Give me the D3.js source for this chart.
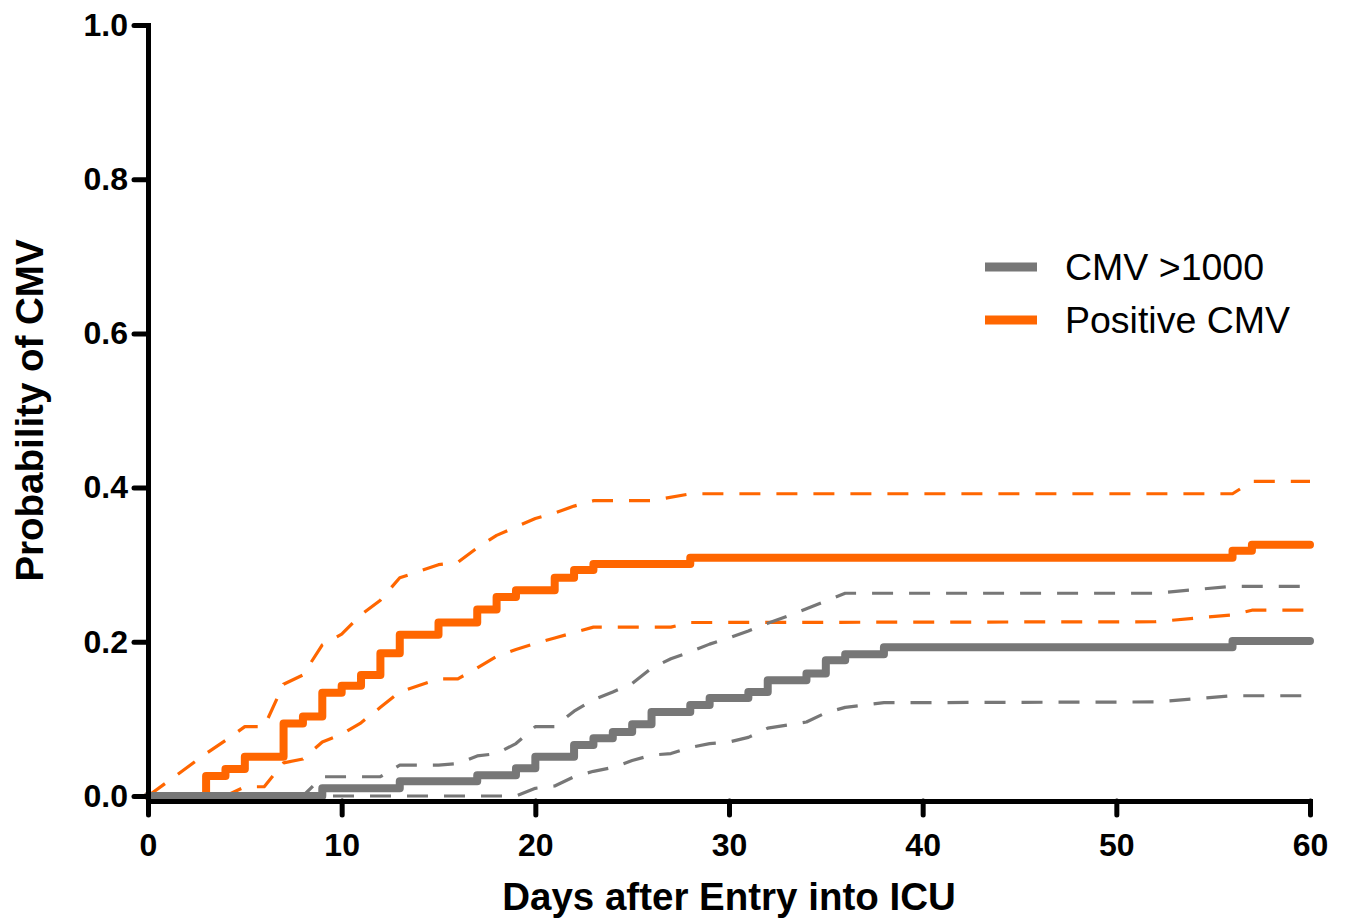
<!DOCTYPE html>
<html>
<head>
<meta charset="utf-8">
<script src="https://cdn.jsdelivr.net/npm/d3@7"></script>
<style>
  body { margin: 0; background: #fff; }
  svg text { font-family: 'Liberation Sans', Arial, sans-serif; }
</style>
</head>
<body>
<svg id="drawing_region"></svg>
<script>
// [day, probability] pairs
const positive_km = [[0,0],[3,0.026],[4,0.035],[5,0.051],[7,0.094],[8,0.103],[9,0.134],[10,0.143],[11,0.157],[12,0.185],[13,0.209],[15,0.225],[17,0.242],[18,0.258],[19,0.267],[21,0.283],[22,0.293],[23,0.301],[28,0.309],[56,0.318],[57,0.326],[60,0.326]];
const positive_upper = [[0,0],[3,0.055],[4,0.072],[5,0.09],[6,0.09],[7,0.145],[8,0.157],[9,0.196],[10,0.21],[11,0.235],[12,0.254],[13,0.283],[15,0.3],[16,0.303],[17,0.322],[18,0.338],[19,0.349],[20,0.36],[21,0.367],[22,0.376],[23,0.383],[26,0.383],[28,0.392],[56,0.392],[57,0.408],[60,0.408]];
const positive_lower = [[0,0],[4,0],[5,0.012],[6,0.012],[7,0.043],[8,0.048],[9,0.07],[10,0.08],[11,0.095],[12,0.115],[13,0.135],[15,0.152],[16,0.152],[17,0.166],[18,0.181],[19,0.19],[20,0.198],[21,0.205],[22,0.212],[23,0.219],[27,0.219],[28,0.225],[52,0.226],[56,0.235],[57,0.241],[60,0.241]];

const high_km = [[0,0],[9,0.01],[13,0.019],[17,0.027],[19,0.036],[20,0.051],[22,0.066],[23,0.075],[24,0.083],[25,0.093],[26,0.109],[28,0.118],[29,0.127],[31,0.135],[32,0.15],[34,0.159],[35,0.176],[36,0.184],[38,0.193],[56,0.201],[60,0.201]];
const high_upper = [[0,0],[8,0],[9,0.025],[12,0.025],[13,0.04],[15,0.04],[16,0.042],[17,0.052],[18,0.055],[19,0.068],[20,0.09],[21,0.09],[22,0.11],[23,0.125],[24,0.135],[25,0.146],[26,0.166],[27,0.178],[28,0.187],[29,0.197],[30,0.205],[31,0.214],[32,0.224],[33,0.233],[34,0.243],[35,0.253],[36,0.263],[52,0.263],[56,0.272],[60,0.272]];
const high_lower = [[0,0],[19,0],[20,0.01],[21,0.013],[22,0.025],[23,0.032],[24,0.037],[25,0.046],[26,0.053],[27,0.055],[28,0.063],[29,0.068],[30,0.07],[31,0.076],[32,0.088],[33,0.092],[34,0.096],[35,0.108],[36,0.115],[38,0.121],[52,0.122],[56,0.13],[60,0.13]];

const series_names = ['CMV >1000', 'Positive CMV'];
const series_colors = ['#777777', '#ff6600'];
const x_ticks = [0, 10, 20, 30, 40, 50, 60];
const y_ticks = [0, 0.2, 0.4, 0.6, 0.8, 1.0];

class KMPlot {

    constructor(config) {
        this.config = {
            parent: config.parent || '#drawing_region',
            width:  config.width  || 1348,
            height: config.height || 923,
            margin: config.margin || { top: 25, right: 38, bottom: 127, left: 148 }
        };
        this.init();
    }

    init() {
        const self = this;

        self.svg = d3.select(self.config.parent)
            .attr('width', self.config.width)
            .attr('height', self.config.height);

        self.chart = self.svg.append('g')
            .attr('transform', `translate(${self.config.margin.left}, ${self.config.margin.top})`);

        self.inner_width  = self.config.width  - self.config.margin.left - self.config.margin.right;
        self.inner_height = self.config.height - self.config.margin.top  - self.config.margin.bottom;

        self.xscale = d3.scaleLinear()
            .domain([0, 60])
            .range([0, self.inner_width]);

        self.yscale = d3.scaleLinear()
            .domain([0, 1])
            .range([self.inner_height, 0]);

        self.xaxis = d3.axisBottom(self.xscale)
            .tickValues(x_ticks)
            .tickSize(14)
            .tickSizeOuter(0)
            .tickPadding(18);

        self.yaxis = d3.axisLeft(self.yscale)
            .tickValues(y_ticks)
            .tickFormat(d3.format('.1f'))
            .tickSize(14)
            .tickSizeOuter(0)
            .tickPadding(6);

        self.lines_group = self.chart.append('g');

        // x axis sits a few pixels below y = 0
        self.xaxis_group = self.chart.append('g')
            .attr('transform', `translate(0, ${self.inner_height + 5})`);
        self.yaxis_group = self.chart.append('g');
    }

    render() {
        const self = this;

        const step = d3.line()
            .x(d => self.xscale(d[0]))
            .y(d => self.yscale(d[1]))
            .curve(d3.curveStepAfter);

        const straight = d3.line()
            .x(d => self.xscale(d[0]))
            .y(d => self.yscale(d[1]));

        const layers = [
            { data: positive_upper, color: series_colors[1], dashed: true },
            { data: positive_lower, color: series_colors[1], dashed: true },
            { data: positive_km,    color: series_colors[1], dashed: false },
            { data: high_upper,     color: series_colors[0], dashed: true },
            { data: high_lower,     color: series_colors[0], dashed: true },
            { data: high_km,        color: series_colors[0], dashed: false }
        ];

        self.lines_group.selectAll('path')
            .data(layers)
            .join('path')
            .attr('d', d => d.dashed ? straight(d.data) : step(d.data))
            .attr('fill', 'none')
            .attr('stroke', d => d.color)
            .attr('stroke-width', d => d.dashed ? 3.2 : 8)
            .attr('stroke-dasharray', d => d.dashed ? '21,16' : null)
            .attr('stroke-linejoin', 'round')
            .attr('stroke-linecap', d => d.dashed ? 'butt' : 'round');

        self.xaxis_group.call(self.xaxis);
        self.yaxis_group.call(self.yaxis);

        [self.xaxis_group, self.yaxis_group].forEach(g => {
            g.select('.domain').attr('stroke', '#000').attr('stroke-width', 5).attr('stroke-linecap', 'square');
            g.selectAll('.tick line').attr('stroke', '#000').attr('stroke-width', 5).attr('stroke-linecap', 'round');
            g.selectAll('.tick text')
                .attr('fill', '#000')
                .style('font-size', '32px')
                .style('font-weight', 'bold')
                .style('font-family', "'Liberation Sans', Arial, sans-serif");
        });

        // axis titles
        self.svg.append('text')
            .attr('x', self.config.margin.left + self.inner_width / 2)
            .attr('y', 910)
            .attr('text-anchor', 'middle')
            .style('font-size', '38.5px')
            .style('font-weight', 'bold')
            .text('Days after Entry into ICU');

        self.svg.append('text')
            .attr('transform', `translate(43, ${self.config.margin.top + self.inner_height / 2}) rotate(-90)`)
            .attr('text-anchor', 'middle')
            .style('font-size', '38.5px')
            .style('font-weight', 'bold')
            .text('Probability of CMV');

        // legend
        const legend = self.svg.append('g')
            .attr('transform', 'translate(985, 267)');

        const items = legend.selectAll('g')
            .data(series_names)
            .join('g')
            .attr('transform', (d, i) => `translate(0, ${i * 53})`);

        items.append('line')
            .attr('x1', 0).attr('x2', 52)
            .attr('stroke', (d, i) => series_colors[i])
            .attr('stroke-width', 9);

        items.append('text')
            .attr('x', 80)
            .attr('y', 13)
            .style('font-size', '37.5px')
            .text(d => d);
    }
}

const plot = new KMPlot({ parent: '#drawing_region', width: 1348, height: 923 });
plot.render();
</script>
</body>
</html>
